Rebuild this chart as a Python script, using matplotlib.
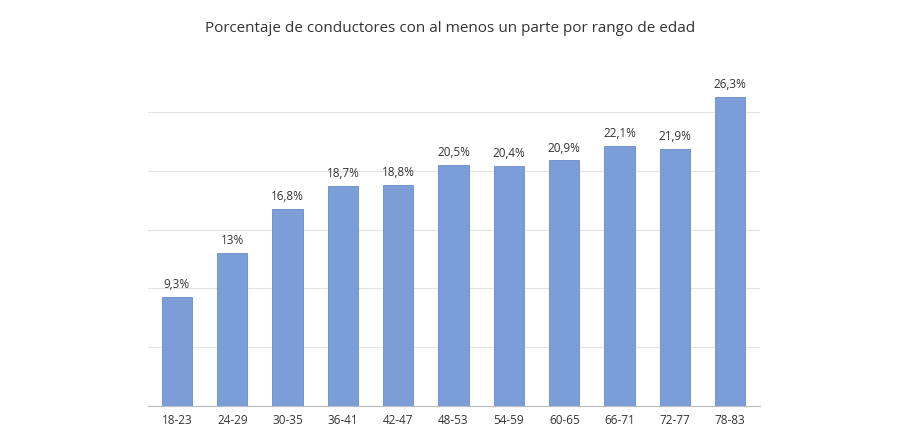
import matplotlib
matplotlib.use("Agg")
import matplotlib.pyplot as plt

# Datos
rangos = ["18-23", "24-29", "30-35", "36-41", "42-47", "48-53",
          "54-59", "60-65", "66-71", "72-77", "78-83"]
porcentajes = [9.3, 13.0, 16.8, 18.7, 18.8, 20.5, 20.4, 20.9, 22.1, 21.9, 26.3]
etiquetas = ["9,3%", "13%", "16,8%", "18,7%", "18,8%", "20,5%",
             "20,4%", "20,9%", "22,1%", "21,9%", "26,3%"]

plt.rcParams["font.family"] = "Open Sans"

fig = plt.figure(figsize=(9, 4.33), dpi=100)
ax = fig.add_axes([0.164, 0.0624, 0.68, 0.814])

x = range(len(rangos))
ax.bar(x, porcentajes, width=0.55, color="#7B9DD8", edgecolor="#6A8CCB",
       linewidth=0.6, zorder=3)

for xi, v, lab in zip(x, porcentajes, etiquetas):
    ax.text(xi, v + 0.5, lab, ha="center", va="bottom", fontsize=8.5,
            color="#333333")

ax.set_xlim(-0.53, len(rangos) - 0.47)
ax.set_ylim(0, 30)
ax.set_yticks([0, 5, 10, 15, 20, 25])
ax.yaxis.grid(True, color="#E4E4E4", linewidth=0.8, zorder=0)
ax.tick_params(axis="y", length=0, labelleft=False)
ax.set_xticks(list(x))
ax.set_xticklabels(rangos, fontsize=8.5, color="#333333")
ax.tick_params(axis="x", length=0, pad=6)
for s in ["top", "right", "left"]:
    ax.spines[s].set_visible(False)
ax.spines["bottom"].set_color("#BBBBBB")

fig.text(0.5, 0.935, "Porcentaje de conductores con al menos un parte por rango de edad",
         ha="center", va="center", fontsize=11, color="#333333")

fig.savefig("out.png", dpi=100)
